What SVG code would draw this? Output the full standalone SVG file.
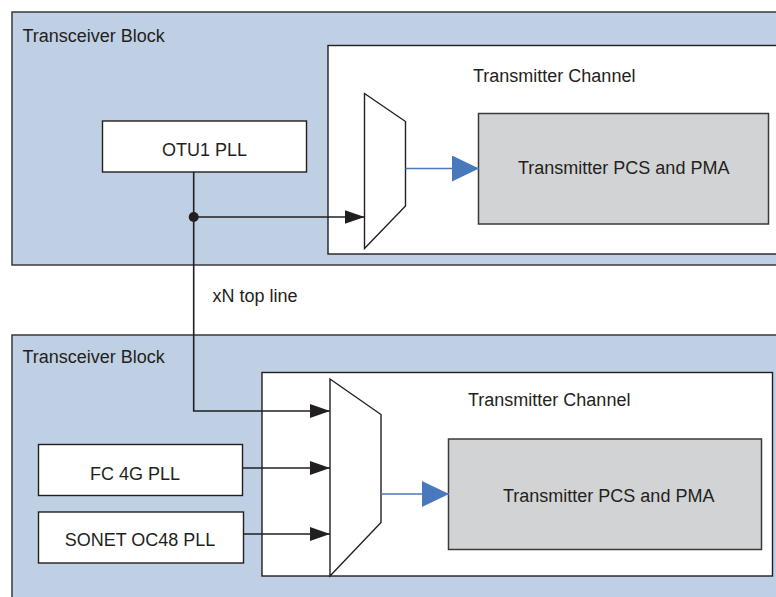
<svg xmlns="http://www.w3.org/2000/svg" width="776" height="597" viewBox="0 0 776 597">
  <defs>
    <marker id="ah" markerUnits="userSpaceOnUse" markerWidth="20" markerHeight="14" refX="20" refY="7" orient="auto">
      <path d="M0,0 L20,7 L0,14 Z" fill="#231f20"/>
    </marker>
    <marker id="ahb" markerUnits="userSpaceOnUse" markerWidth="27" markerHeight="26" refX="27" refY="13" orient="auto">
      <path d="M0,0 L27,13 L0,26 Z" fill="#4a78bd"/>
    </marker>
  </defs>
  <style>
    text { font-family: "Liberation Sans", Arial, sans-serif; font-size: 18px; fill: #231f20; }
    .block { fill: #bfcfe4; stroke: #3a3a3c; stroke-width: 1.5; }
    .chan { fill: #ffffff; stroke: #231f20; stroke-width: 1.4; }
    .pll { fill: #ffffff; stroke: #231f20; stroke-width: 1.4; }
    .pcs { fill: #d2d3d5; stroke: #3a3a3c; stroke-width: 1.5; }
    .mux { fill: #ffffff; stroke: #231f20; stroke-width: 1.4; }
    .wire { fill: none; stroke: #231f20; stroke-width: 1.6; }
    .bwire { fill: none; stroke: #4a78bd; stroke-width: 1.6; }
  </style>

  <!-- Top transceiver block -->
  <g id="block-top">
    <rect class="block" x="12" y="12" width="780" height="253"/>
    <text x="22.5" y="42">Transceiver Block</text>
  </g>
  <g id="channel-top">
    <rect class="chan" x="328" y="45.5" width="470" height="208.5"/>
    <text x="473" y="82">Transmitter Channel</text>
  </g>
  <g id="otu1-pll">
    <rect class="pll" x="102.5" y="121" width="204" height="51"/>
    <text x="204.5" y="156" text-anchor="middle">OTU1 PLL</text>
  </g>
  <g id="mux-top">
    <polygon class="mux" points="364.5,93.5 405.5,121.5 405.5,206 364.5,248.5"/>
  </g>
  <g id="pcs-top">
    <rect class="pcs" x="478.5" y="113.5" width="290" height="110.5"/>
    <text x="518" y="173.5">Transmitter PCS and PMA</text>
  </g>

  <!-- Bottom transceiver block -->
  <g id="block-bottom">
    <rect class="block" x="12" y="335" width="780" height="280"/>
    <text x="22.5" y="363">Transceiver Block</text>
  </g>
  <g id="channel-bottom">
    <rect class="chan" x="262" y="372.5" width="510.5" height="203.5"/>
    <text x="468" y="406">Transmitter Channel</text>
  </g>
  <g id="fc4g-pll">
    <rect class="pll" x="38.5" y="444.5" width="204" height="51"/>
    <text x="135" y="479.5" text-anchor="middle">FC 4G PLL</text>
  </g>
  <g id="sonet-pll">
    <rect class="pll" x="38.5" y="512" width="205" height="51"/>
    <text x="140" y="545.5" text-anchor="middle">SONET OC48 PLL</text>
  </g>
  <g id="mux-bottom">
    <polygon class="mux" points="330,379 381,414.5 381,522.5 330,576"/>
  </g>
  <g id="pcs-bottom">
    <rect class="pcs" x="448.5" y="439" width="313" height="110.5"/>
    <text x="503" y="502">Transmitter PCS and PMA</text>
  </g>

  <g id="label-xn">
    <text x="212.5" y="302">xN top line</text>
  </g>

  <!-- Connectors -->
  <g id="connectors">
    <path class="wire" d="M193.7,172 L193.7,411 L330,411" marker-end="url(#ah)"/>
    <path class="wire" d="M193.7,217 L364.5,217" marker-end="url(#ah)"/>
    <circle cx="193.7" cy="217" r="5" fill="#231f20"/>
    <path class="wire" d="M242.5,468 L330,468" marker-end="url(#ah)"/>
    <path class="wire" d="M243.5,534 L330,534" marker-end="url(#ah)"/>
    <path class="bwire" d="M405.5,168.5 L479,168.5" marker-end="url(#ahb)"/>
    <path class="bwire" d="M381,494 L449,494" marker-end="url(#ahb)"/>
  </g>
</svg>
